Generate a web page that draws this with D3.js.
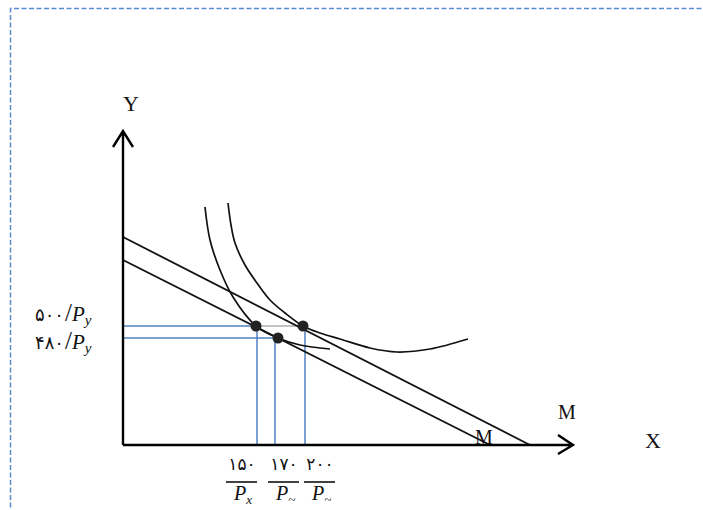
<!DOCTYPE html>
<html>
<head>
<meta charset="utf-8">
<script src="https://cdn.jsdelivr.net/npm/d3@7"></script>
<style>
  body { margin: 0; background: #fff; }
  svg { display: block; }
  .lbl { font-family: "Liberation Serif", serif; fill: #111; }
  .num { font-family: "DejaVu Sans", sans-serif; fill: #111; }
</style>
</head>
<body>
<div id="chart"></div>
<script>
// quantities are in drawing units
var budgetHigh = [[0, 208], [407, 0]];
var budgetLow = [[0, 185], [367, 0]];
var curveInner = [[82, 238], [87, 205], [97, 175], [110, 148], [133, 119], [155, 107], [177, 100], [207, 96]];
var curveOuter = [[105, 242], [108, 220], [112, 202], [122, 180], [134, 162], [147, 145], [162, 132], [180, 119],
    [197, 112], [217, 106], [247, 97], [274, 93], [307, 96], [345, 106]];
var optima = [[133, 119], [155, 107], [180, 119]];
var xGuides = [134, 152, 182];
var xGuideTops = [119, 107, 119];
var xLabels = ["۱۵۰", "۱۷۰", "۲۰۰"];
var xSubs = ["x", "~", "~"];
var yGuides = [119, 107];
var yGuideEnds = [180, 155];
var yLabels = ["۵۰۰", "۴۸۰"];

var width = 703, height = 510;
var origin = {x: 123, y: 445};

var x = d3.scaleLinear().domain([0, 450]).range([origin.x, origin.x + 450]);
var y = d3.scaleLinear().domain([0, 314]).range([origin.y, origin.y - 314]);

var svg = d3.select("#chart").append("svg")
    .attr("width", width)
    .attr("height", height);

// dashed frame
svg.append("path")
    .attr("d", "M10.5,515 L10.5,8.5 L710,8.5")
    .attr("fill", "none")
    .attr("stroke", "#5a8ad0")
    .attr("stroke-width", 1.5)
    .attr("stroke-dasharray", "5,2.5");

var blue = "#4f81c4";

// horizontal guides
yGuides.forEach(function (v, i) {
    svg.append("line")
        .attr("x1", x(0)).attr("x2", x(i === 0 ? optima[0][0] : yGuideEnds[i]))
        .attr("y1", y(v)).attr("y2", y(v))
        .attr("stroke", blue).attr("stroke-width", 1.5);
});
svg.append("line")
    .attr("x1", x(optima[0][0])).attr("x2", x(yGuideEnds[0]))
    .attr("y1", y(yGuides[0])).attr("y2", y(yGuides[0]))
    .attr("stroke", "#888").attr("stroke-width", 1.2);

// vertical guides
xGuides.forEach(function (v, i) {
    svg.append("line")
        .attr("x1", x(v)).attr("x2", x(v))
        .attr("y1", y(0)).attr("y2", y(xGuideTops[i]))
        .attr("stroke", blue).attr("stroke-width", 1.5);
});

var line = d3.line()
    .x(function (d) { return x(d[0]); })
    .y(function (d) { return y(d[1]); });

[budgetHigh, budgetLow].forEach(function (b) {
    svg.append("path")
        .attr("d", line(b))
        .attr("fill", "none")
        .attr("stroke", "#111")
        .attr("stroke-width", 1.8);
});

var smooth = d3.line()
    .x(function (d) { return x(d[0]); })
    .y(function (d) { return y(d[1]); })
    .curve(d3.curveCatmullRom.alpha(0.5));

[curveInner, curveOuter].forEach(function (c) {
    svg.append("path")
        .attr("d", smooth(c))
        .attr("fill", "none")
        .attr("stroke", "#111")
        .attr("stroke-width", 1.7);
});

svg.selectAll(".dot")
    .data(optima)
    .enter().append("circle")
    .attr("class", "dot")
    .attr("cx", function (d) { return x(d[0]); })
    .attr("cy", function (d) { return y(d[1]); })
    .attr("r", 5.5)
    .attr("fill", "#222");

// axes with arrow heads
svg.append("path")
    .attr("d", line([[0, 0], [0, 314]]) + line([[-10, 298], [0, 314], [10, 298]]))
    .attr("fill", "none").attr("stroke", "#000").attr("stroke-width", 2.4);
svg.append("path")
    .attr("d", line([[0, 0], [450, 0]]) + line([[435, 10], [450, 0], [435, -9]]))
    .attr("fill", "none").attr("stroke", "#000").attr("stroke-width", 2.4);

svg.append("text").attr("class", "lbl")
    .attr("x", 131).attr("y", 111).attr("text-anchor", "middle")
    .style("font-size", "22px").text("Y");
svg.append("text").attr("class", "lbl")
    .attr("x", 653).attr("y", 448).attr("text-anchor", "middle")
    .style("font-size", "22px").text("X");
svg.append("text").attr("class", "lbl")
    .attr("x", 567).attr("y", 419).attr("text-anchor", "middle")
    .style("font-size", "20px").text("M");
svg.append("text").attr("class", "lbl")
    .attr("x", 484).attr("y", 444).attr("text-anchor", "middle")
    .style("font-size", "20px").text("M");

// y labels
yLabels.forEach(function (t, i) {
    var g = svg.append("text")
        .attr("x", 35).attr("y", y(yGuides[i]) + (i === 0 ? -5 : 11))
        .attr("direction", "ltr");
    g.append("tspan").attr("class", "num").style("font-size", "18px").text(t);
    g.append("tspan").attr("class", "lbl").style("font-size", "25px").attr("dx", 1).text("/");
    g.append("tspan").attr("class", "lbl").style("font-size", "21px").style("font-style", "italic").text("P");
    g.append("tspan").attr("class", "lbl").style("font-size", "15px").style("font-style", "italic")
        .attr("dy", 4).text("y");
});

// x labels as fractions
var xCenters = [242, 284, 320];
xLabels.forEach(function (t, i) {
    var cx = xCenters[i];
    svg.append("text").attr("class", "num")
        .attr("x", cx).attr("y", 470).attr("text-anchor", "middle")
        .attr("direction", "ltr")
        .style("font-size", "17px").text(t);
    svg.append("line")
        .attr("x1", cx - 16).attr("x2", cx + 15)
        .attr("y1", 482).attr("y2", 482)
        .attr("stroke", "#111").attr("stroke-width", 1.6);
    var p = svg.append("text").attr("class", "lbl")
        .attr("x", cx - 8).attr("y", 500)
        .style("font-style", "italic");
    p.append("tspan").style("font-size", "20px").text("P");
    p.append("tspan").style("font-size", "13px").attr("dy", 4).text(xSubs[i]);
});
</script>
</body>
</html>
